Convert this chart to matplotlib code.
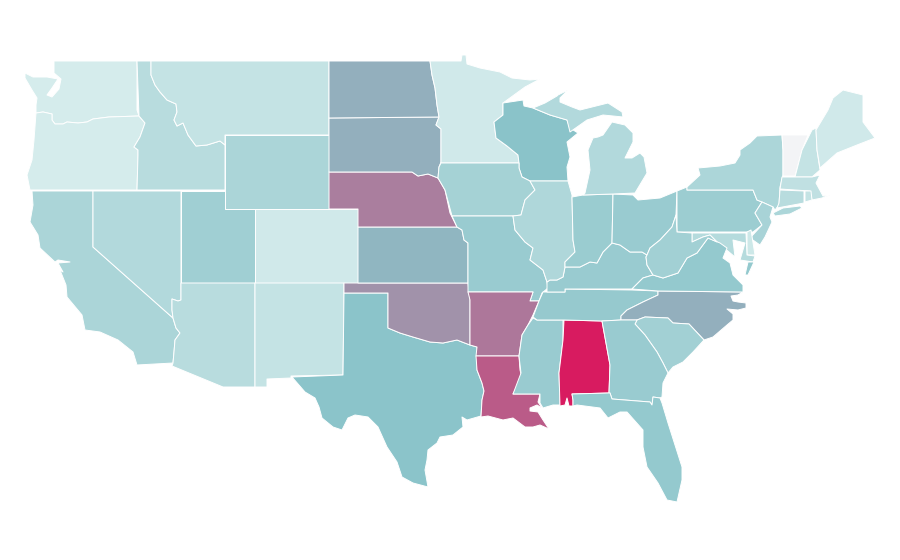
import matplotlib
matplotlib.use('Agg')
import matplotlib.pyplot as plt
from matplotlib.collections import PolyCollection
from matplotlib.colors import LinearSegmentedColormap, Normalize

states = ['WA', 'OR', 'CA', 'NV', 'ID', 'MT', 'WY', 'UT', 'CO', 'AZ', 'NM', 'TX', 'OK', 'KS', 'NE', 'SD', 'ND',
          'MN', 'WI', 'IA', 'MO', 'AR', 'LA', 'MS', 'AL', 'TN', 'NC', 'SC', 'GA', 'FL', 'KY', 'IL', 'IN', 'OH',
          'PA', 'NY', 'VT', 'NH', 'ME', 'MA', 'CT', 'RI', 'NJ', 'DE', 'MD', 'VA', 'WV', 'MI']
values = [2.2, 2.3, 6.6, 5.8, 5.3, 4.0, 6.6, 7.7, 2.8, 5.3, 4.0, 9.9, 18.9, 12.4, 22.3, 13.5, 13.5,
          2.8, 10.0, 7.2, 8.5, 23.5, 28.5, 8.5, 40.0, 8.8, 13.5, 7.5, 8.5, 9.0, 8.5, 6.2, 8.3, 8.5,
          8.2, 6.5, 0.0, 4.0, 2.8, 4.5, 5.3, 4.0, 7.0, 3.0, 5.5, 9.0, 7.5, 5.8]

# outlines, in pixels. no shapefile available offline
outlines = {
    'WA': [[(54, 61), (137, 61), (137, 110), (139, 116), (109, 117), (93, 119), (87, 122), (78, 123), (67, 122),
            (63, 124), (55, 124), (52, 120), (52, 114), (43, 112), (36, 113), (36, 105), (37, 98), (32, 90),
            (25, 78), (25, 73), (33, 77), (47, 77), (58, 79), (52, 88), (47, 95), (52, 97), (59, 89), (61, 79),
            (54, 73)]],
    'OR': [[(36, 113), (43, 112), (52, 114), (52, 120), (55, 124), (63, 124), (67, 122), (78, 123), (87, 122),
            (93, 119), (109, 117), (139, 116), (145, 123), (140, 137), (134, 147), (138, 150), (138, 155),
            (137, 190), (30, 190), (27, 175), (32, 160), (34, 140)]],
    'CA': [[(32, 191), (93, 191), (93, 247), (173, 318), (176, 328), (180, 333), (175, 340), (174, 352), (173, 363),
            (137, 365), (133, 352), (118, 340), (100, 332), (85, 330), (82, 315), (67, 297), (66, 285), (60, 270),
            (63, 272), (58, 263), (70, 262), (58, 260), (55, 262), (40, 248), (38, 235), (30, 222), (33, 205)]],
    'NV': [[(93, 191), (181, 191), (181, 300), (178, 301), (172, 299), (172, 310), (173, 318), (93, 247)]],
    'ID': [[(137, 61), (151, 61), (151, 75), (155, 85), (160, 92), (167, 100), (176, 104), (177, 112), (174, 120),
            (177, 126), (183, 123), (188, 135), (196, 146), (207, 145), (220, 141), (225, 145), (225, 190),
            (137, 190), (138, 155), (138, 150), (134, 147), (140, 137), (145, 123), (139, 116)]],
    'MT': [[(151, 61), (329, 61), (329, 135), (225, 135), (225, 145), (220, 141), (207, 145), (196, 146), (188, 135),
            (183, 123), (177, 126), (174, 120), (177, 112), (176, 104), (167, 100), (160, 92), (155, 85), (151, 75)]],
    'WY': [[(225, 135), (329, 135), (329, 209), (225, 209)]],
    'UT': [[(181, 191), (225, 191), (225, 209), (255, 209), (255, 283), (181, 283)]],
    'CO': [[(255, 209), (358, 209), (358, 283), (255, 283)]],
    'AZ': [[(181, 283), (255, 283), (255, 387), (223, 387), (172, 366), (173, 363), (174, 352), (175, 340), (180, 333),
            (176, 328), (173, 318), (172, 310), (172, 299), (178, 301), (181, 300)]],
    'NM': [[(255, 283), (344, 283), (344, 293), (343, 375), (291, 376), (291, 378), (267, 379), (267, 387), (255, 387)]],
    'TX': [[(344, 293), (388, 293), (388, 328), (400, 333), (413, 337), (430, 342), (443, 343), (457, 340), (470, 345),
            (477, 347), (477, 370), (482, 383), (484, 391), (482, 400), (481, 416), (467, 420), (462, 417), (463, 427),
            (453, 435), (440, 437), (437, 443), (428, 450), (427, 460), (425, 470), (428, 487), (413, 483), (402, 477),
            (397, 462), (387, 447), (378, 427), (368, 417), (355, 415), (348, 418), (342, 430), (333, 427), (322, 418),
            (319, 407), (315, 398), (305, 392), (292, 377), (343, 375)]],
    'OK': [[(344, 283), (468, 283), (470, 300), (470, 345), (457, 340), (443, 343), (430, 342), (413, 337), (400, 333),
            (388, 328), (388, 293), (344, 293)]],
    'KS': [[(358, 227), (457, 227), (462, 230), (464, 240), (468, 243), (468, 283), (358, 283)]],
    'NE': [[(329, 172), (412, 172), (418, 176), (428, 174), (438, 178), (445, 190), (450, 213), (457, 227), (358, 227),
            (358, 209), (329, 209)]],
    'SD': [[(329, 118), (439, 117), (436, 125), (441, 129), (441, 162), (439, 167), (438, 178), (428, 174), (418, 176),
            (412, 172), (329, 172)]],
    'ND': [[(329, 61), (430, 61), (432, 75), (435, 88), (437, 105), (439, 117), (329, 118)]],
    'MN': [[(430, 61), (461, 61), (462, 55), (466, 55), (467, 64), (480, 68), (500, 72), (512, 78), (530, 80), (540, 79),
            (525, 87), (503, 103), (503, 115), (494, 122), (496, 138), (507, 146), (518, 155), (519, 163), (441, 163),
            (441, 129), (436, 125), (439, 117), (437, 105), (435, 88), (432, 75)]],
    'WI': [[(503, 103), (523, 100), (524, 106), (533, 108), (550, 115), (567, 120), (570, 128), (578, 133), (567, 142),
            (570, 157), (567, 167), (568, 181), (530, 181), (522, 177), (519, 168), (519, 163), (518, 155), (507, 146),
            (496, 138), (494, 122), (503, 115)]],
    'IA': [[(441, 163), (519, 163), (519, 168), (522, 177), (530, 181), (535, 190), (525, 200), (521, 215), (513, 216),
            (452, 216), (445, 190), (438, 178), (439, 167)]],
    'MO': [[(452, 216), (513, 216), (515, 230), (525, 242), (533, 248), (530, 260), (543, 270), (547, 282), (548, 288),
            (542, 293), (539, 301), (530, 301), (533, 292), (468, 292), (468, 243), (464, 240), (462, 230), (457, 227)]],
    'AR': [[(468, 292), (533, 292), (530, 301), (539, 301), (533, 315), (528, 325), (522, 335), (519, 356), (476, 356),
            (477, 347), (470, 345), (470, 300)]],
    'LA': [[(476, 356), (519, 356), (520, 370), (522, 378), (513, 394), (540, 394), (538, 402), (542, 408), (537, 405),
            (530, 408), (530, 411), (538, 412), (543, 420), (549, 429), (540, 425), (533, 427), (525, 427), (513, 418),
            (503, 420), (488, 416), (481, 417), (482, 400), (484, 391), (482, 383), (477, 370)]],
    'MS': [[(537, 320), (563, 320), (563, 340), (559, 373), (560, 405), (553, 405), (543, 408), (540, 403), (540, 394),
            (513, 394), (521, 373), (519, 356), (522, 335), (528, 325), (533, 318)]],
    'AL': [[(564, 320), (602, 321), (610, 365), (609, 393), (572, 394), (573, 400), (573, 406), (569, 406), (567, 398),
            (565, 405), (560, 406), (559, 373), (563, 340)]],
    'TN': [[(543, 292), (565, 292), (565, 289), (632, 290), (658, 291), (658, 295), (643, 302), (627, 310), (621, 316),
            (621, 320), (602, 321), (564, 320), (537, 320), (533, 317), (539, 301)]],
    'NC': [[(658, 291), (743, 292), (738, 295), (731, 296), (733, 301), (738, 302), (746, 303), (746, 308), (738, 310),
            (727, 309), (733, 314), (733, 320), (727, 325), (713, 337), (704, 340),
            (689, 324), (673, 323), (668, 318), (645, 317), (637, 320), (621, 320), (621, 316), (627, 310), (643, 302),
            (658, 295)]],
    'SC': [[(645, 317), (668, 318), (673, 323), (689, 324), (704, 340), (693, 352), (683, 362), (673, 367), (668, 373),
            (663, 363), (657, 352), (645, 335), (635, 324), (637, 320)]],
    'GA': [[(602, 321), (621, 320), (637, 320), (635, 324), (645, 335), (657, 352), (663, 363), (668, 373), (663, 383),
            (662, 397), (660, 398), (653, 397), (652, 405), (650, 402), (612, 399), (610, 393), (609, 393), (610, 365)]],
    'FL': [[(572, 394), (609, 393), (610, 393), (612, 399), (650, 402), (652, 405), (653, 397), (660, 398), (662, 403),
            (668, 423), (682, 467), (682, 480), (677, 502), (667, 500), (658, 483), (647, 467), (643, 447), (643, 430),
            (627, 412), (620, 412), (608, 418), (600, 408), (577, 405), (573, 406), (573, 400)]],
    'KY': [[(547, 292), (547, 282), (550, 280), (557, 280), (563, 277), (565, 267), (580, 267), (590, 262), (597, 263),
            (603, 252), (612, 243), (620, 245), (630, 252), (642, 252), (647, 255), (646, 257), (647, 265), (653, 275),
            (643, 278), (632, 289), (565, 289), (565, 292)]],
    'IL': [[(530, 181), (568, 181), (572, 195), (573, 240), (575, 252), (565, 262), (565, 267), (563, 277), (557, 280),
            (550, 280), (547, 282), (543, 270), (530, 260), (533, 248), (525, 242), (515, 230), (513, 216), (521, 215),
            (525, 200), (535, 190)]],
    'IN': [[(572, 197), (583, 195), (613, 194), (612, 243), (603, 252), (597, 263), (590, 262), (580, 267), (565, 267),
            (565, 262), (575, 252), (573, 240)]],
    'OH': [[(613, 194), (633, 195), (638, 200), (660, 198), (677, 191), (676, 215), (672, 227), (660, 240), (650, 248),
            (647, 255), (642, 252), (630, 252), (620, 245), (612, 243)]],
    'PA': [[(677, 191), (687, 187), (687, 190), (753, 190), (757, 200), (762, 202), (755, 213), (762, 225), (753, 232),
            (677, 232)]],
    'NY': [[(687, 187), (700, 175), (698, 168), (720, 166), (735, 163), (740, 155), (740, 150), (750, 143), (757, 136),
            (782, 135), (783, 150), (783, 175), (780, 187), (779, 205), (775, 210), (773, 207), (762, 202), (757, 200),
            (753, 190), (687, 190)],
           [(773, 213), (783, 208), (800, 206), (802, 208), (790, 214), (775, 216)]],
    'VT': [[(782, 135), (808, 135), (802, 150), (795, 176), (783, 176), (783, 150)]],
    'NH': [[(802, 150), (812, 130), (816, 128), (817, 150), (820, 170), (812, 177), (795, 177)]],
    'ME': [[(816, 130), (828, 110), (833, 98), (843, 90), (863, 95), (863, 122), (875, 138), (857, 145), (837, 153),
            (820, 168), (817, 150)]],
    'MA': [[(782, 177), (812, 177), (820, 175), (816, 183), (823, 196), (830, 195), (822, 198), (812, 200), (810, 191),
            (780, 189)]],
    'CT': [[(780, 190), (804, 191), (804, 203), (777, 208), (779, 203)]],
    'RI': [[(805, 191), (811, 191), (812, 200), (805, 202)]],
    'NJ': [[(762, 202), (773, 207), (770, 217), (772, 222), (765, 237), (760, 245), (750, 238), (762, 225), (755, 213)]],
    'DE': [[(747, 232), (751, 230), (755, 255), (747, 255)]],
    'MD': [[(692, 233), (746, 233), (747, 255), (755, 256), (753, 262), (740, 260), (745, 243), (733, 240), (735, 257),
            (717, 242), (710, 235), (703, 237), (692, 242)]],
    'VA': [[(632, 289), (643, 278), (653, 275), (663, 278), (678, 273), (687, 258), (697, 253), (708, 238), (720, 243),
            (727, 248), (723, 258), (730, 263), (733, 275), (743, 285), (743, 292), (658, 291)],
           [(748, 262), (754, 262), (748, 275), (745, 275)]],
    'WV': [[(676, 215), (677, 232), (692, 233), (692, 242), (703, 237), (710, 235), (717, 242), (708, 238), (697, 253),
            (687, 258), (678, 273), (663, 278), (653, 275), (647, 265), (646, 257), (647, 255), (650, 248), (660, 240),
            (672, 227)]],
    'MI': [[(585, 193), (590, 170), (588, 150), (593, 138), (598, 137), (603, 135), (612, 122), (625, 125), (633, 133),
            (633, 142), (625, 158), (632, 158), (640, 153), (644, 157), (647, 173), (635, 193), (613, 194), (583, 195)],
           [(533, 108), (545, 103), (557, 96), (558, 95), (568, 90), (560, 98), (560, 102), (572, 107), (580, 110),
            (600, 105), (608, 103), (622, 112), (623, 117), (603, 115), (587, 120), (570, 132), (567, 120), (550, 115)]],
}

cmap = LinearSegmentedColormap.from_list('teal_crimson', [(0, '#f3f4f6'), (1 / 40, '#e0f2f1'), (10 / 40, '#8ac3c9'), (1, '#d81b60')])

polys = []
poly_values = []
for name, val in zip(states, values):
    for ring in outlines[name]:
        polys.append(ring)
        poly_values.append(val)

fig = plt.figure(figsize=(9, 5.6), dpi=100)
ax = fig.add_axes([0, 0, 1, 1])
coll = PolyCollection(polys, array=poly_values, cmap=cmap, norm=Normalize(0, 40), edgecolors='white', linewidths=0.7)
ax.add_collection(coll)
ax.set_xlim(0, 900)
ax.set_ylim(560, 0)
ax.axis('off')
fig.savefig('out.png', dpi=100)
